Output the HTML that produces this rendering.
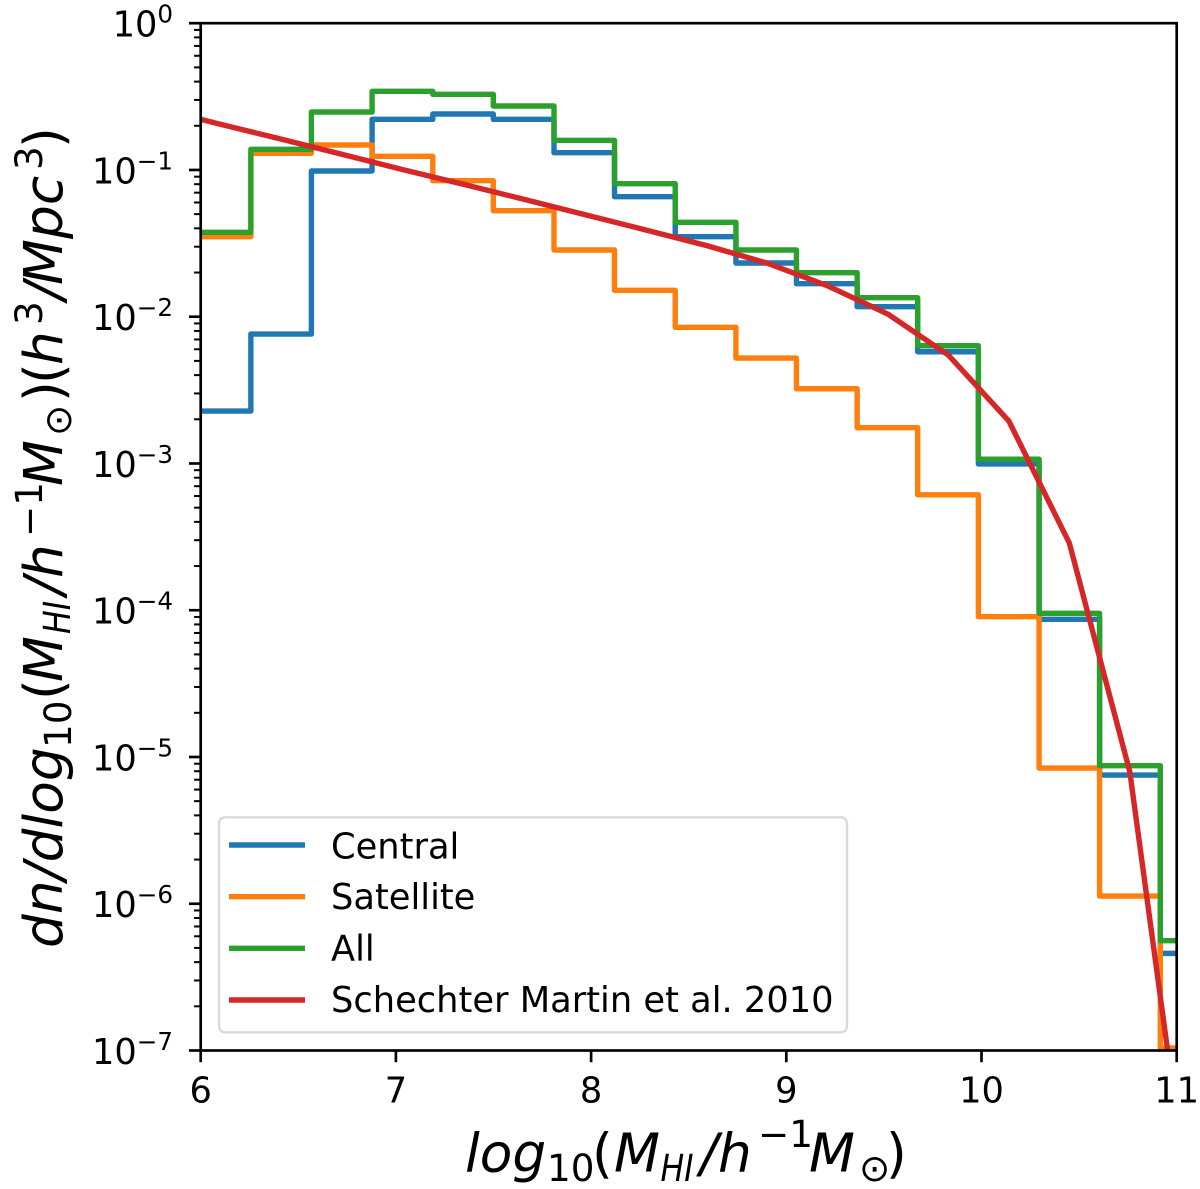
<!DOCTYPE html>
<html>
<head>
<meta charset="utf-8">
<title>HI mass function</title>
<style>
html,body{margin:0;padding:0;background:#fff;width:1200px;height:1189px;overflow:hidden}
svg{display:block;font-family:"DejaVu Sans","Liberation Sans",sans-serif}
.it{font-style:italic}
</style>
</head>
<body>
<svg id="chart" xmlns="http://www.w3.org/2000/svg" width="1200" height="1189" viewBox="0 0 1200 1189">
  <defs>
    <clipPath id="axes-clip"><rect x="200.7" y="23.2" width="976" height="1027.3"/></clipPath>
  </defs>
  <rect x="0" y="0" width="1200" height="1189" fill="#fff"/>
  <g id="ticks"></g>
  <g id="series" clip-path="url(#axes-clip)"></g>
  <rect x="200.7" y="23.2" width="976" height="1027.3" fill="none" stroke="#000" stroke-width="2.67"/>
  <g id="tick-labels" fill="#000" font-size="35.2"></g>

  <g>
    <rect x="219" y="817.3" width="628" height="215" rx="6" ry="6" fill="#fff" fill-opacity="0.8" stroke="#d9d9d9" stroke-width="2.4"/>
    <line x1="229" x2="305" y1="845" y2="845" stroke="#1f77b4" stroke-width="5.4"/>
    <line x1="229" x2="305" y1="896.7" y2="896.7" stroke="#ff7f0e" stroke-width="5.4"/>
    <line x1="229" x2="305" y1="948.3" y2="948.3" stroke="#2ca02c" stroke-width="5.4"/>
    <line x1="229" x2="305" y1="1000" y2="1000" stroke="#d62728" stroke-width="5.4"/>
    <text x="331" y="858.3" font-size="35.25">Central</text>
    <text x="331" y="909" font-size="35.25">Satellite</text>
    <text x="331" y="960.7" font-size="35.25">All</text>
    <text x="331" y="1012" font-size="35.25">Schechter Martin et al. 2010</text>
  </g>

  <text font-size="53.3" y="1171.7">
    <tspan class="it" x="465">log</tspan><tspan x="547" y="1181" font-size="37.3">10</tspan><tspan x="592" y="1171.7">(</tspan><tspan class="it" x="614">M</tspan><tspan class="it" x="700" y="1171.7">/</tspan><tspan class="it" x="718">h</tspan><tspan x="758" y="1147" font-size="37.3">−1</tspan><tspan class="it" x="809" y="1171.7">M</tspan><tspan x="859" y="1181" font-size="37.3">⊙</tspan><tspan x="886" y="1171.7">)</tspan>
  </text>
  <text class="it" x="660.5" y="1181" font-size="37.3" textLength="33" lengthAdjust="spacingAndGlyphs">HI</text>

  <g transform="translate(62,945) rotate(-90)">
    <text font-size="53.3" y="0">
      <tspan class="it" x="-3">dn/dlog</tspan><tspan x="197" y="9" font-size="37.3">10</tspan><tspan x="245" y="0">(</tspan><tspan class="it" x="263">M</tspan><tspan class="it" x="350" y="0">/</tspan><tspan class="it" x="367">h</tspan><tspan x="408" y="-20" font-size="37.3">−1</tspan><tspan class="it" x="459" y="0">M</tspan><tspan x="509" y="9" font-size="37.3">⊙</tspan><tspan x="543" y="0">)</tspan><tspan x="561" y="0">(</tspan><tspan class="it" x="580">h</tspan><tspan x="620" y="-20" font-size="37.3">3</tspan><tspan class="it" x="645" y="0">/</tspan><tspan class="it" x="660">Mpc</tspan><tspan x="775" y="-20" font-size="37.3">3</tspan><tspan x="797" y="0">)</tspan>
    </text>
    <text class="it" x="311" y="8" font-size="37.3" textLength="33" lengthAdjust="spacingAndGlyphs">HI</text>
  </g>
</svg>
<script>
// Histogram bin edges (log10 mass)
const binEdges = [5.946, 6.257, 6.567, 6.878, 7.189, 7.499, 7.810, 8.120, 8.431, 8.742, 9.052, 9.363, 9.673, 9.984, 10.295, 10.605, 10.916, 11.226];
// Number densities per bin
const centralValues = [2.277e-3, 7.62e-3, 0.0984, 0.2214, 0.2406, 0.2214, 0.1311, 0.0657, 0.0351, 0.02323, 0.01678, 0.0117, 5.77e-3, 9.92e-4, 8.67e-5, 7.53e-6, 4.59e-7];
const satelliteValues = [0.0351, 0.1299, 0.1479, 0.1239, 0.0845, 0.0528, 0.02848, 0.01513, 8.47e-3, 5.23e-3, 3.23e-3, 1.752e-3, 6.12e-4, 9.03e-5, 8.41e-6, 1.128e-6, 1.04e-7];
const allValues = [0.0376, 0.1383, 0.2483, 0.3436, 0.3278, 0.2728, 0.1592, 0.0806, 0.04398, 0.02848, 0.01995, 0.01347, 6.34e-3, 1.07e-3, 9.53e-5, 8.72e-6, 5.6e-7];
// Schechter fit sample points
const schechterMass = [5.789, 6.10, 6.41, 6.72, 7.03, 7.35, 7.66, 7.97, 8.28, 8.59, 8.90, 9.21, 9.52, 9.83, 10.14, 10.45, 10.76, 11.07];
const schechterValues = [0.2602, 0.2050, 0.1625, 0.1282, 0.1010, 0.0796, 0.0629, 0.04949, 0.0390, 0.03056, 0.02322, 0.01626, 0.01043, 5.48e-3, 1.947e-3, 2.87e-4, 7.9e-6, 7.2e-9];
// Tick labels
const xTickLabels = [6, 7, 8, 9, 10, 11];
const yTickExponents = [0, -1, -2, -3, -4, -5, -6, -7];

const NS = 'http://www.w3.org/2000/svg';
const plotLeft = 200.7, plotRight = 1176.7, plotTop = 23.2, plotBottom = 1050.5;
const xMin = 6, xMax = 11, logMax = 0, logMin = -7;
function xScale(v) { return plotLeft + (v - xMin) / (xMax - xMin) * (plotRight - plotLeft); }
function yScale(v) { return plotTop + (logMax - Math.log10(v)) / (logMax - logMin) * (plotBottom - plotTop); }

const seriesGroup = document.getElementById('series');
const ticksGroup = document.getElementById('ticks');
const labelsGroup = document.getElementById('tick-labels');

function stepPath(edges, values) {
  let d = 'M' + xScale(edges[0]).toFixed(2) + ' ' + yScale(values[0]).toFixed(2);
  for (let i = 0; i < values.length; i++) {
    d += ' H' + xScale(edges[i + 1]).toFixed(2);
    if (i + 1 < values.length) d += ' V' + yScale(values[i + 1]).toFixed(2);
  }
  return d;
}
function linePath(xs, ys) {
  return xs.map(function (x, i) {
    return (i ? 'L' : 'M') + xScale(x).toFixed(2) + ' ' + yScale(ys[i]).toFixed(2);
  }).join(' ');
}
function addPath(d, color, width) {
  const p = document.createElementNS(NS, 'path');
  p.setAttribute('d', d);
  p.setAttribute('fill', 'none');
  p.setAttribute('stroke', color);
  p.setAttribute('stroke-width', width);
  p.setAttribute('stroke-linejoin', 'round');
  seriesGroup.appendChild(p);
  return p;
}

const centralPath = addPath(stepPath(binEdges, centralValues), '#1f77b4', 5.4);


const satellitePath = addPath(stepPath(binEdges, satelliteValues), '#ff7f0e', 5.4);


const allPath = addPath(stepPath(binEdges, allValues), '#2ca02c', 5.4);


const schechterPath = addPath(linePath(schechterMass, schechterValues), '#d62728', 5.4);



function addTick(x1, y1, x2, y2, width) {
  const l = document.createElementNS(NS, 'line');
  l.setAttribute('x1', x1);
  l.setAttribute('y1', y1);
  l.setAttribute('x2', x2);
  l.setAttribute('y2', y2);
  l.setAttribute('stroke', '#000');
  l.setAttribute('stroke-width', width);
  ticksGroup.appendChild(l);
  return l;
}

xTickLabels.forEach(function (v) {
  const x = xScale(v);
  const tick = addTick(x, plotBottom, x, plotBottom + 11.7, 2.67);
  
  
  const t = document.createElementNS(NS, 'text');
  
  
  t.setAttribute('x', x);
  t.setAttribute('y', 1102.7);
  t.setAttribute('text-anchor', 'middle');
  t.textContent = String(v);
  labelsGroup.appendChild(t);
});

yTickExponents.forEach(function (e) {
  const y = yScale(Math.pow(10, e));
  const tick = addTick(plotLeft - 11.7, y, plotLeft, y, 2.67);
  
  
  const t = document.createElementNS(NS, 'text');
  
  
  t.setAttribute('x', 173);
  t.setAttribute('y', y + 13.3);
  t.setAttribute('text-anchor', 'end');
  t.appendChild(document.createTextNode('10'));
  const s = document.createElementNS(NS, 'tspan');
  s.setAttribute('dy', -14);
  s.setAttribute('font-size', 24.6);
  s.textContent = String(e).replace('-', '\u2212');
  t.appendChild(s);
  labelsGroup.appendChild(t);
  if (e > logMin) {
    for (let m = 2; m <= 9; m++) {
      const ym = yScale(m * Math.pow(10, e - 1));
      const minor = addTick(plotLeft - 6.67, ym, plotLeft, ym, 2);
      
      
    }
  }
});
</script>
</body>
</html>
